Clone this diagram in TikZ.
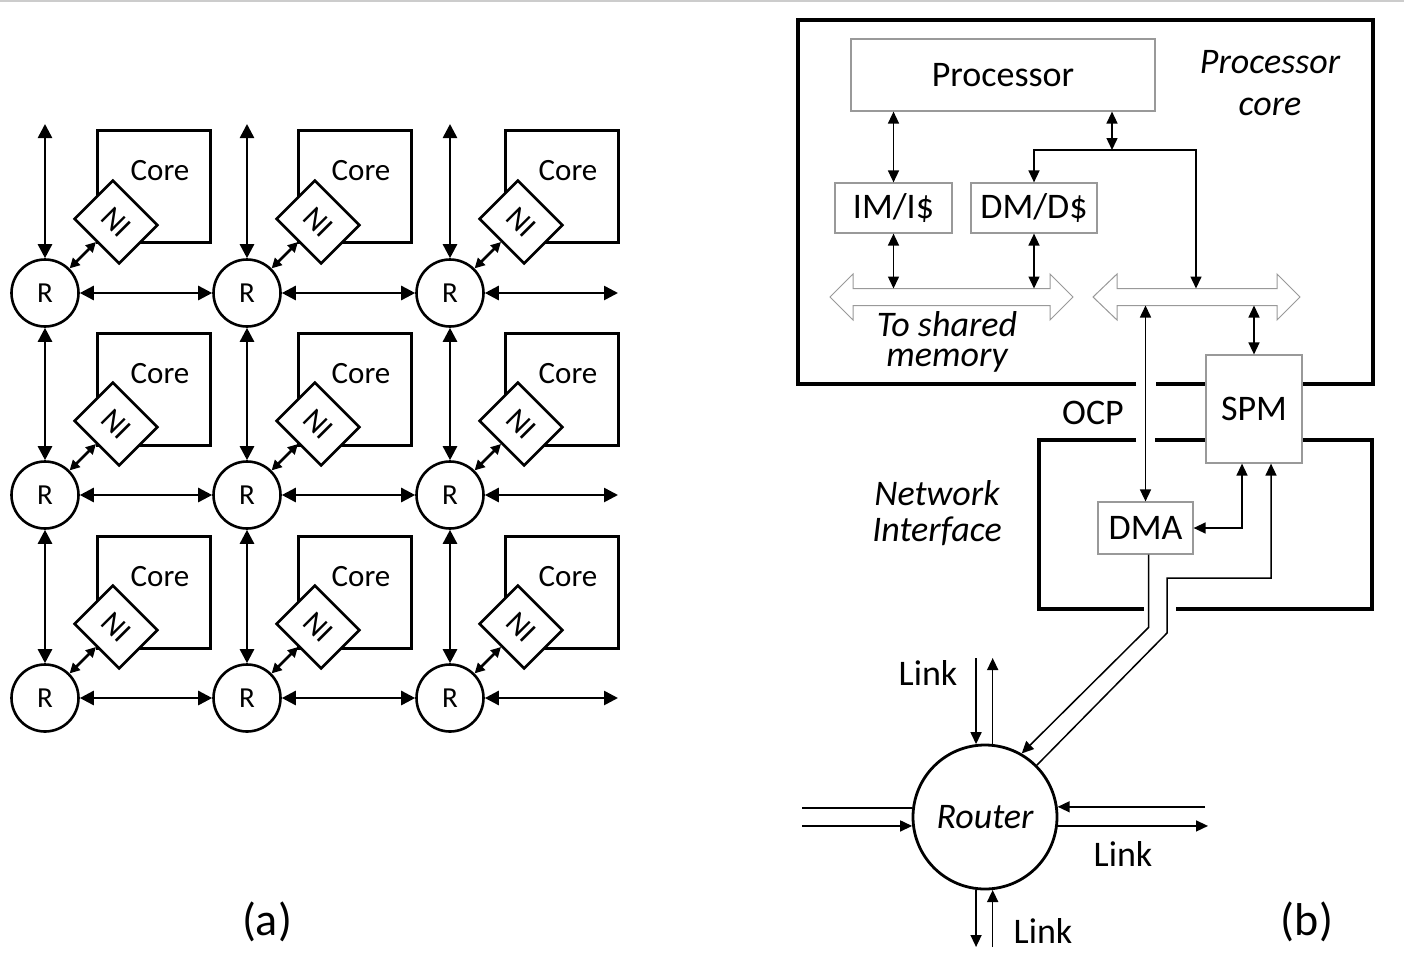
\documentclass[tikz,border=0pt]{standalone}
\usepackage{fontspec}
\setmainfont{Carlito}
\usetikzlibrary{arrows.meta,calc}
\tikzset{
  ta/.tip={Triangle[length=14pt,width=14pt]},
  tn/.tip={Triangle[length=10pt,width=10pt]},
  tb/.tip={Triangle[length=12pt,width=11pt]},
  bigarr/.style={line width=2.6pt, ta-ta},
  niarr/.style={line width=2.6pt, tn-tn},
  rnode/.style={circle, draw, line width=2.6pt, minimum size=67pt, inner sep=0pt, fill=white, font=\fontsize{29}{34}\selectfont},
  corebox/.style={draw, line width=2.6pt, minimum width=113pt, minimum height=112pt, inner sep=0pt},
  nibox/.style={draw, fill=white, line width=2.6pt, rotate=-45, minimum width=63pt, minimum height=54pt, inner sep=0pt, font=\fontsize{31}{36}\selectfont},
  gbox/.style={draw=black!40, line width=1.2pt, fill=white, inner sep=0pt, font=\fontsize{36}{43}\selectfont},
  heavy/.style={line width=3.5pt},
  arrb/.style={line width=1.5pt},
  busst/.style={draw=black!40, line width=1pt, fill=white},
  txtb/.style={font=\fontsize{36}{43}\selectfont},
  itl/.style={font=\itshape\fontsize{36}{43}\selectfont},
}
\begin{document}
\begin{tikzpicture}[x=1pt,y=-1pt]
\useasboundingbox (0,0) rectangle (1404,964);
\draw[black!20, line width=2pt] (0,1) -- (1404,1);

% ---------------- (a) ----------------
\foreach \c/\x/\cx in {1/45/96,2/247/297,3/450/504}{
  \foreach \r/\y/\cy in {1/293/129,2/495/332,3/698/535}{
    \node[corebox, anchor=north west] (core\r\c) at (\cx,\cy) {};
    \node[font=\fontsize{31}{37}\selectfont, anchor=base] (coret\r\c) at ($(core\r\c.north west)+(64,51)$) {Core};
    \node[nibox] (ni\r\c) at (\x+71,\y-71) {NI};
    \node[rnode] (r\r\c) at (\x,\y) {R};
    \draw[niarr] (r\r\c.45) -- (ni\r\c.south);
  }
}
\foreach \c/\x in {1/45,2/247,3/450}{
  \coordinate (top\c) at (\x,124);
  \draw[bigarr] (r1\c.north) -- (top\c);
  \draw[bigarr] (r1\c.south) -- (r2\c.north);
  \draw[bigarr] (r2\c.south) -- (r3\c.north);
}
\foreach \r/\y in {1/293,2/495,3/698}{
  \coordinate (end\r) at (618,\y);
  \draw[bigarr] (r\r1.east) -- (r\r2.west);
  \draw[bigarr] (r\r2.east) -- (r\r3.west);
  \draw[bigarr] (r\r3.east) -- (end\r);
}
\node[font=\fontsize{46}{52}\selectfont, anchor=base] (lbla) at (267,935) {(a)};

% ---------------- (b) ----------------
% processor core box (gap for OCP line)
\draw[heavy] (1136,384) -| (798,20) -| (1373,384) -- (1156,384);
% network interface box
\draw[heavy] (1136,440) -| (1039,609) -- (1144,609);
\draw[heavy] (1176,609) -| (1372,440) -- (1155,440);

\node[gbox, minimum width=304pt, minimum height=72pt] (proc) at (1003,75) {Processor};
\node[gbox, minimum width=117pt, minimum height=50pt] (im) at (893.5,208) {IM/I\$};
\node[gbox, minimum width=126pt, minimum height=50pt] (dm) at (1034,208) {DM/D\$};
\node[gbox, minimum width=96pt, minimum height=108pt] (spm) at (1254,409) {SPM};
\node[gbox, minimum width=95pt, minimum height=52pt] (dma) at (1145.5,528) {DMA};

% buses
\draw[busst] (830,297) -- (853,274) -- (853,288.5) -- (1050,288.5) -- (1050,274) -- (1073,297) -- (1050,320) -- (1050,305.5) -- (853,305.5) -- (853,320) -- cycle;
\draw[busst] (1093,297) -- (1117,274) -- (1117,288.5) -- (1277,288.5) -- (1277,274) -- (1300,297) -- (1277,320) -- (1277,305.5) -- (1117,305.5) -- (1117,320) -- cycle;
\coordinate (busLtop) at (0,288.5);
\coordinate (busRtop) at (0,288.5);
\coordinate (busRbot) at (0,305.5);

% connectors in processor core
\coordinate (jn) at (1112,150);
\coordinate (jr) at (1196,150);
\draw[arrb, tb-tb] (proc.south -| im.north) -- (im.north);
\draw[arrb, tb-tb] (proc.south -| jn) -- (jn);
\draw[arrb, tb-tb] (dm.north) -- (dm.north |- jn) -- (jr) -- (jr |- busRtop);
\draw[arrb, tb-tb] (im.south) -- (im.south |- busLtop);
\draw[arrb, tb-tb] (dm.south) -- (dm.south |- busLtop);
\draw[arrb, tb-tb] (dma.north |- busRbot) -- (dma.north);
\draw[arrb, tb-tb] (spm.north |- busRbot) -- (spm.north);
\coordinate (sp1) at (1242,0);
\draw[arrb, tb-tb] (dma.east) -| (sp1 |- spm.south);

% router
\node[circle, draw, line width=2.8pt, minimum size=144pt, inner sep=0pt, font=\itshape\fontsize{36}{43}\selectfont] (router) at (985,817) {Router};

\coordinate (sp2) at (1271,0);
\coordinate (kneeR) at (1167,578);
\coordinate (kneeR2) at (1167,633);
\draw[arrb, tb-] (sp2 |- spm.south) |- (kneeR) -- (kneeR2) -- (router.45);
\coordinate (dmaout) at ($(dma.south)+(3,0)$);
\coordinate (kneeL) at (1148.5,627.5);
\draw[arrb, -tb] (dmaout) -- (kneeL) -- (router.60);

% links
\coordinate (lt) at (0,658);
\coordinate (lb) at (0,947);
\coordinate (ll) at (802,0);
\coordinate (rr1) at (1205,0);
\coordinate (rr2) at (1208,0);
\draw[arrb, -tb] (router.97 |- lt) -- (router.97);
\draw[arrb, -tb] (router.84) -- (router.84 |- lt);
\draw[arrb, -tb] (router.263) -- (router.263 |- lb);
\draw[arrb, -tb] (router.276 |- lb) -- (router.276);
\draw[arrb] (ll |- router.173) -- (router.173);
\draw[arrb, -tb] (ll |- router.187) -- (router.187);
\draw[arrb, -tb] (rr1 |- router.8) -- (router.8);
\draw[arrb, -tb] (router.353) -- (rr2 |- router.353);

% texts
\node[itl, anchor=base] (pc1) at (1270,73) {Processor};
\node[itl, anchor=base] (pc2) at (1270,115) {core};
\node[itl, anchor=base] (ts1) at (947,336) {To shared};
\node[itl, anchor=base] (ts2) at (947,366) {memory};
\node[txtb, anchor=base] (ocp) at (1093,424) {OCP};
\node[itl, anchor=base] (nw1) at (937,505) {Network};
\node[itl, anchor=base] (nw2) at (937,541) {Interface};
\node[txtb, anchor=base] (lk1) at (928,685) {Link};
\node[txtb, anchor=base] (lk2) at (1123,866) {Link};
\node[txtb, anchor=base] (lk3) at (1043,943) {Link};
\node[font=\fontsize{46}{52}\selectfont, anchor=base] (lblb) at (1307,935) {(b)};
\end{tikzpicture}
\end{document}
